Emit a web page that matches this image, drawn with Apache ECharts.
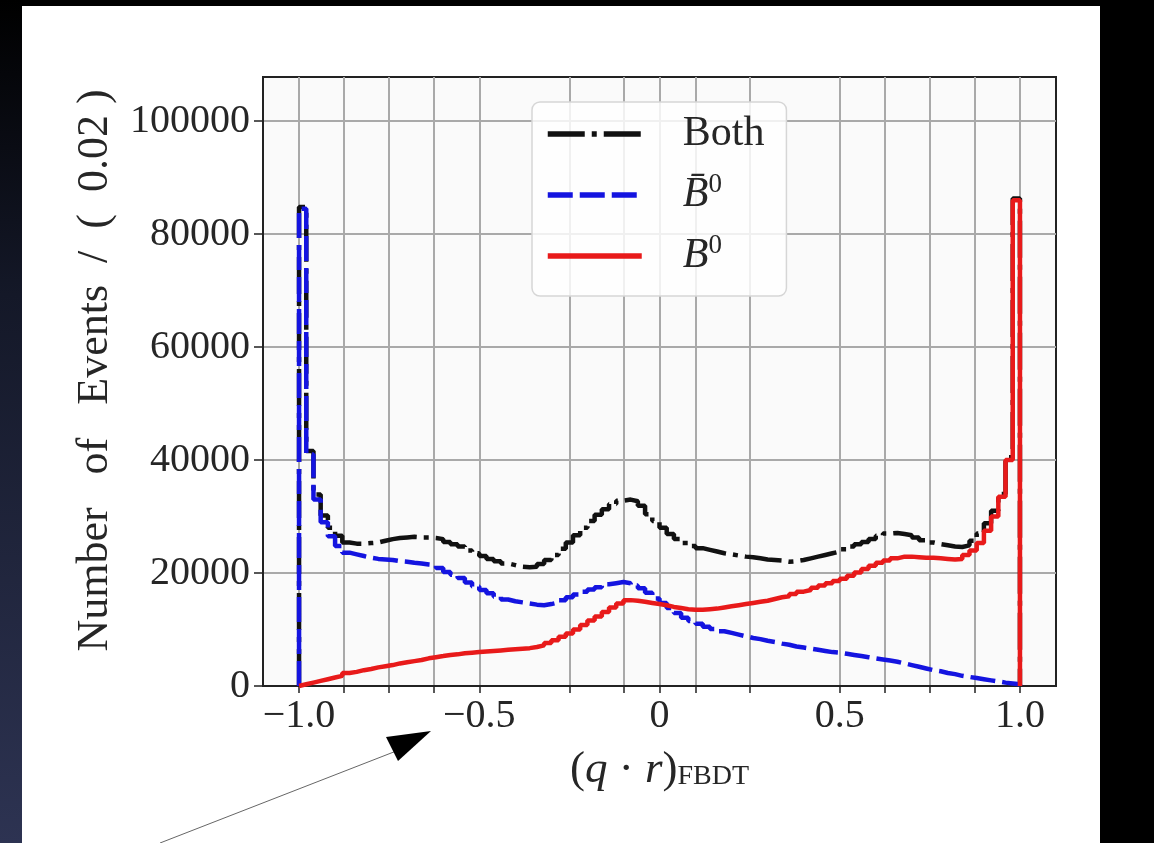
<!DOCTYPE html>
<html>
<head>
<meta charset="utf-8">
<script src="https://cdn.jsdelivr.net/npm/echarts@6/dist/echarts.min.js"></script>
<style>
html,body{margin:0;padding:0;background:#000;}
#chart{width:1154px;height:843px;}
</style>
</head>
<body>
<div id="chart"></div>
<script>
// histogram binning: 100 bins of 0.02 on [-1, 1]
var binStart = -1.0;
var binWidth = 0.02;

// Both (B0 + anti-B0)
var bothCounts = [
  84800, 41600, 33900, 30200, 28000, 26600, 25400, 25200, 25200, 25300,
  25400, 25700, 26000, 26200, 26300, 26400, 26300, 26300, 26200, 26000,
  25500, 25100, 24700, 24000, 23500, 23000, 22500, 22100, 21700, 21400,
  21100, 21000, 21100, 21600, 22300, 23200, 24300, 25400, 26700, 28000,
  29200, 30300, 31300, 32200, 32800, 33000, 32700, 31900, 30400, 29200,
  28000, 26900, 26000, 25300, 24800, 24400, 24100, 23800, 23500, 23300,
  23100, 22900, 22800, 22600, 22400, 22300, 22200, 22000, 22100, 22300,
  22600, 22900, 23200, 23500, 23800, 24200, 24700, 25100, 25500, 26000,
  26600, 27000, 27100, 26900, 26700, 26300, 25800, 25400, 25100, 24900,
  24700, 24600, 24900, 25700, 27000, 28800, 31000, 34000, 40500, 86300
];

// anti-B0
var bBarCounts = [
  84500, 41000, 33000, 29000, 26500, 24800, 23600, 23300, 23000, 22700,
  22500, 22400, 22300, 22100, 22000, 21800, 21700, 21500, 21400, 20900,
  20200, 19700, 19100, 18300, 17600, 17000, 16400, 15800, 15300, 15000,
  14800, 14600, 14400, 14300, 14500, 14800, 15200, 15700, 16200, 16700,
  17100, 17500, 18000, 18200, 18400, 18200, 17800, 17300, 16500, 15500,
  14700, 13800, 12900, 12100, 11500, 11000, 10500, 10100, 9700, 9400,
  9100, 8800, 8500, 8300, 8000, 7800, 7500, 7300, 7000, 6800,
  6600, 6400, 6200, 6000, 5900, 5700, 5500, 5300, 5100, 4900,
  4700, 4500, 4300, 4000, 3700, 3400, 3100, 2800, 2600, 2300,
  2100, 1800, 1600, 1400, 1200, 1000, 800, 600, 450, 300
];

// B0
var bCounts = [
  300, 600, 900, 1200, 1500, 1800, 2300, 2500, 2800, 3000,
  3300, 3500, 3700, 4000, 4200, 4400, 4600, 4900, 5100, 5300,
  5500, 5600, 5800, 5900, 6000, 6100, 6200, 6300, 6400, 6500,
  6600, 6700, 6900, 7200, 7600, 8100, 8700, 9300, 10000, 10800,
  11600, 12300, 13100, 13900, 14600, 15200, 15100, 14900, 14700, 14500,
  14300, 14000, 13800, 13600, 13500, 13500, 13600, 13700, 13900, 14100,
  14300, 14500, 14700, 14900, 15100, 15400, 15700, 15900, 16300, 16700,
  17000, 17400, 17800, 18200, 18600, 19000, 19500, 20100, 20700, 21300,
  21800, 22200, 22600, 22900, 22900, 22800, 22700, 22700, 22600, 22500,
  22400, 22500, 23200, 24000, 25300, 27500, 30000, 33500, 40000, 86000
];

var seriesNames = ['Both', 'B\u0304', 'B'];
var xTickValues = [-1, -0.875, -0.75, -0.625, -0.5, -0.25, -0.1, 0, 0.1, 0.25, 0.5, 0.625, 0.75, 0.875, 1];
var xLabelValues = [-1, -0.5, 0, 0.5, 1];
var yTickValues = [0, 20000, 40000, 60000, 80000, 100000];

// outline of a step histogram: left edge up from 0, one step per bin, down to 0 at the right edge
function histOutline(vals){
    var pts = [[binStart, 0]];
    for (var i = 0; i < vals.length; i++) {
        pts.push([+(binStart + i * binWidth).toFixed(2), vals[i]]);
    }
    var end = +(binStart + vals.length * binWidth).toFixed(2);
    pts.push([end, vals[vals.length - 1]]);
    pts.push([end, 0]);
    return pts;
}

var serif = '"Liberation Serif", "Times New Roman", serif';
var txt = '#262626';
var colBoth = '#111111', colBar = '#1414e0', colB = '#e81a1a';
var dashBoth = [37, 7, 5, 7], dashBar = [25, 7];

var chart = echarts.init(document.getElementById('chart'), null, {renderer: 'canvas'});

var option = {
    backgroundColor: '#000',
    animation: false,
    graphic: [
        {type: 'rect', z: -10, shape: {x: 0, y: 0, width: 22, height: 843},
         style: {fill: new echarts.graphic.LinearGradient(0, 0, 0, 1, [
            {offset: 0, color: '#000000'}, {offset: 0.35, color: '#141828'}, {offset: 1, color: '#2d3352'}])}},
        {type: 'rect', z: -10, shape: {x: 22, y: 6, width: 1078, height: 837}, style: {fill: '#ffffff'}},
        // annotation arrow
        {type: 'line', z: 10, shape: {x1: 160, y1: 843, x2: 404, y2: 748}, style: {stroke: '#666', lineWidth: 1}},
        {type: 'polygon', z: 10, shape: {points: [[431, 731], [386, 737], [398, 761]]}, style: {fill: '#000'}}
    ],
    grid: {
        left: 263, top: 77, width: 793, height: 609,
        show: true, backgroundColor: '#fafafa', borderColor: '#222', borderWidth: 2
    },
    legend: {
        orient: 'vertical',
        left: 532, top: 102,
        padding: [11, 22, 19, 13],
        itemWidth: 94, itemHeight: 48, itemGap: 16,
        backgroundColor: 'rgba(255,255,255,0.82)',
        borderColor: '#d6d6d6', borderWidth: 1.5, borderRadius: 8,
        selectedMode: false,
        itemStyle: {opacity: 0},
        data: [
            {name: 'Both', lineStyle: {color: colBoth, width: 5.5, type: dashBoth}},
            {name: 'B\u0304', lineStyle: {color: colBar, width: 5.5, type: dashBar}},
            {name: 'B', lineStyle: {color: colB, width: 5.5}}
        ],
        formatter: function(name){
            if (name === 'Both') return '{gap|}{t|Both}';
            return '{gap|}{it|' + name + '}{sup|0}';
        },
        textStyle: {
            rich: {
                gap: {width: 36},
                t: {fontFamily: serif, fontSize: 42, lineHeight: 48, color: txt},
                it: {fontFamily: serif, fontStyle: 'italic', fontSize: 42, lineHeight: 48, color: txt},
                sup: {fontFamily: serif, fontSize: 27, lineHeight: 30, verticalAlign: 'top', color: txt}
            }
        }
    },
    xAxis: {
        type: 'value', min: -1.1, max: 1.1,
        name: '{n|(}{i|q}{n| \u00b7 }{i|r}{n|)}{sub|FBDT}',
        nameLocation: 'middle', nameGap: 62,
        nameTextStyle: {
            rich: {
                n: {fontFamily: serif, fontSize: 45, color: txt},
                i: {fontFamily: serif, fontSize: 45, fontStyle: 'italic', color: txt},
                sub: {fontFamily: serif, fontSize: 28, color: txt, verticalAlign: 'bottom', padding: [0, 0, 2, 0]}
            }
        },
        axisLine: {show: true, onZero: false, lineStyle: {color: '#222', width: 2}},
        axisTick: {show: true, inside: false, length: 7, customValues: xTickValues, lineStyle: {color: '#222', width: 1.5}},
        axisLabel: {
            customValues: xLabelValues, margin: 10,
            fontFamily: serif, fontSize: 40, color: txt,
            formatter: function(v){
                if (v === 0) return '0';
                var s = Math.abs(v).toFixed(1);
                return v < 0 ? '\u2212' + s : s;
            }
        },
        splitLine: {show: true, lineStyle: {color: '#a9a9a9', width: 2}}
    },
    yAxis: {
        type: 'value', min: 0, max: 107800,
        name: '  Number   of   Events  /  (  0.02 )',
        nameLocation: 'middle', nameRotate: 90, nameGap: 146,
        nameTextStyle: {fontFamily: serif, fontSize: 44, color: txt},
        axisLine: {show: true, onZero: false, lineStyle: {color: '#222', width: 2}},
        axisTick: {show: true, inside: false, length: 9, customValues: yTickValues, lineStyle: {color: '#222', width: 1.5}},
        axisLabel: {
            customValues: yTickValues, margin: 13, fontFamily: serif, fontSize: 40, color: txt,
            formatter: function(v){ return String(v); }
        },
        splitLine: {show: true, lineStyle: {color: '#a9a9a9', width: 2}}
    },
    series: [
        {
            name: 'Both', type: 'line', step: 'end', symbol: 'none', z: 3,
            data: histOutline(bothCounts),
            lineStyle: {color: colBoth, width: 4.5, type: dashBoth},
            itemStyle: {color: colBoth}
        },
        {
            name: 'B\u0304', type: 'line', step: 'end', symbol: 'none', z: 4,
            data: histOutline(bBarCounts),
            lineStyle: {color: colBar, width: 4.5, type: dashBar},
            itemStyle: {color: colBar}
        },
        {
            name: 'B', type: 'line', step: 'end', symbol: 'none', z: 5,
            data: histOutline(bCounts),
            lineStyle: {color: colB, width: 4.5},
            itemStyle: {color: colB}
        }
    ]
};

chart.setOption(option);
</script>
</body>
</html>
